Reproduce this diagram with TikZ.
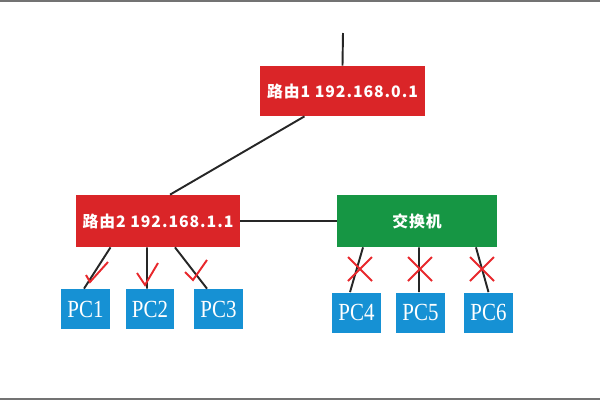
\documentclass[tikz,border=0pt]{standalone}
\usepackage{fontspec}
\usepackage{tikz}
\newfontfamily\cjk[LetterSpace=6]{Noto Sans CJK SC}
\newfontfamily\pcfont[FakeStretch=0.85]{Liberation Serif}
\definecolor{routerred}{RGB}{218,37,40}
\definecolor{switchgreen}{RGB}{22,150,68}
\definecolor{pcblue}{RGB}{22,145,212}
\definecolor{markred}{RGB}{232,40,44}

\begin{document}
\begin{tikzpicture}[x=0.02cm, y=-0.02cm,
  router/.style={shape=rectangle, fill=routerred, text=white, font=\cjk\bfseries\fontsize{9}{10}\selectfont, inner sep=0pt},
  switch/.style={shape=rectangle, fill=switchgreen, text=white, font=\cjk\bfseries\fontsize{9}{10}\selectfont, inner sep=0pt, minimum width=3.2cm, minimum height=1.04cm},
  pc/.style={shape=rectangle, fill=pcblue, text=white, font=\pcfont\fontsize{14}{15}\selectfont, inner sep=0pt, minimum width=0.98cm, minimum height=0.8cm},
  link/.style={draw=black!85, line width=1.1pt},
  okmark/.style={draw=markred, line width=1.1pt},
  nomark/.style={draw=markred, line width=1.1pt}]
\useasboundingbox (0,0) rectangle (600,400);
\fill[black!55] (0,0) rectangle (600,2);
\fill[black!55] (0,398) rectangle (600,400);

\coordinate (up) at (343,33);
\node[router, minimum width=3.3cm, minimum height=1cm](r1) at (342.5,91) {路由1 192.168.0.1};
\node[router, minimum width=3.28cm, minimum height=1.04cm](r2) at (158,221) {路由2 192.168.1.1};
\node[switch](sw) at (417,221) {交换机};

\node[pc](pc1) at (85.5,309) {PC1};
\node[pc](pc2) at (150,309) {PC2};
\node[pc](pc3) at (218.5,309) {PC3};
\node[pc](pc4) at (356.5,312.5) {PC4};
\node[pc](pc5) at (420.5,312.5) {PC5};
\node[pc](pc6) at (488.5,312.5) {PC6};

\path[link] (up) edge (r1.north);
\path[link] ([xshift=-0.76cm]r1.south) edge ([xshift=0.24cm]r2.north);
\path[link] (r2.east) edge (sw.west);

\path[link] ([xshift=-0.95cm]r2.south) edge ([xshift=-0.03cm]pc1.north);
\path[link] ([xshift=-0.22cm]r2.south) edge ([xshift=-0.06cm]pc2.north);
\path[link] ([xshift=0.34cm]r2.south) edge ([xshift=-0.23cm]pc3.north);

\path[link] ([xshift=-1.08cm]sw.south) edge ([xshift=-0.13cm]pc4.north);
\path[link] ([xshift=0.04cm]sw.south) edge ([xshift=-0.03cm]pc5.north);
\path[link] ([xshift=1.18cm]sw.south) edge ([xshift=0cm]pc6.north);

% ticks
\draw[okmark] (86,275) -- (90,282) -- (108,262);
\draw[okmark] (137,273) -- (145,285) -- (158,263);
\draw[okmark] (185,272) -- (193,280) -- (207,260);

% crosses
\draw[nomark] (348,257) -- (372,281) (348,281) -- (372,257);
\draw[nomark] (408,257) -- (432,281) (408,281) -- (432,257);
\draw[nomark] (470,257) -- (494,281) (470,281) -- (494,257);
\end{tikzpicture}
\end{document}
